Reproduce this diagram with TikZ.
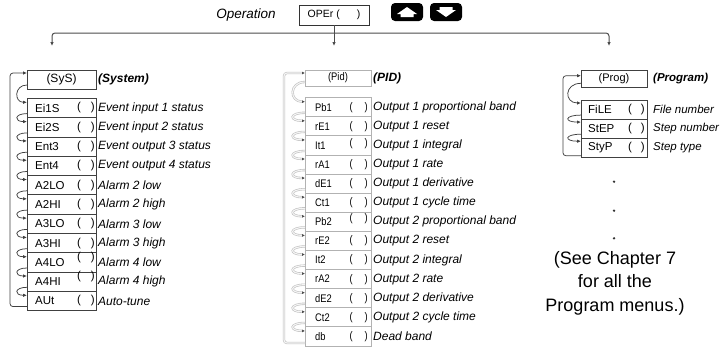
\documentclass[tikz,border=0pt]{standalone}
\usepackage{fontspec}
\setmainfont{Liberation Sans}
\newfontfamily\narrowfont[FakeStretch=0.85]{Liberation Sans}
\usetikzlibrary{arrows.meta,positioning}

\begin{document}
\begin{tikzpicture}[x=1pt, y=-1pt,
    sysbox/.style={draw=black!75, line width=0.75pt, minimum width=69pt, minimum height=19.3pt, inner sep=0pt, outer sep=0pt},
    pidbox/.style={draw=gray!60, line width=1pt, minimum width=66pt, minimum height=19.1pt, inner sep=0pt, outer sep=0pt},
    progbox/.style={sysbox, minimum width=66pt, minimum height=19.1pt},
    lab/.style={anchor=west, inner sep=0pt, font=\fontsize{11.5}{13}\selectfont},
    paren/.style={anchor=east, inner sep=0pt, font=\fontsize{11.5}{13}\selectfont},
    desc/.style={anchor=west, inner sep=2pt, font=\fontsize{12}{14}\selectfont\itshape},
    hdrdesc/.style={desc, font=\fontsize{12}{14}\selectfont\bfseries\itshape},
    flow/.style={draw=black!70, line width=1pt, -{Latex[length=4pt,width=3.5pt]}},
    linkline/.style={draw=black!75, line width=0.75pt, -{Latex[length=4pt,width=3.5pt]}},
    pidlink/.style={draw=gray!50, double=gray!8, double distance=1.1pt, line width=0.6pt, -{Latex[length=3pt,width=3pt,color=black!70]}},
    btn/.style={fill=black, rounded corners=4pt, minimum width=32pt, minimum height=18pt, inner sep=0pt}
  ]

    \useasboundingbox (0,0) rectangle (725,348);

    % 1. 顶部:Operation 菜单与上下键
    \node[font=\fontsize{13.5}{16}\selectfont\itshape] (opname) at (246,15) {Operation};
    \node[draw=black!80, line width=0.75pt, minimum width=70pt, minimum height=20pt, inner sep=0pt,
          font=\fontsize{10.5}{12}\selectfont] (oper) at (334,15) {OPEr (\hspace{17pt})};
    \node[btn] (up) at (407,12) {};
    \node[btn] (dn) at (446,12) {};
    \begin{scope}[shift={(up.center)}]
      \fill[white] (-6.5,5) -- (6.5,5) -- (6.5,2) -- (10,2) -- (0,-5) -- (-10,2) -- (-6.5,2) -- cycle;
    \end{scope}
    \begin{scope}[shift={(dn.center)}]
      \fill[white] (-6.5,-5) -- (6.5,-5) -- (6.5,-2) -- (10,-2) -- (0,5) -- (-10,-2) -- (-6.5,-2) -- cycle;
    \end{scope}

    % 2. 分支线:通往三个子菜单
    \coordinate (bar) at (334,33);
    \coordinate (tipL) at (52,46);
    \coordinate (tipM) at (334,46);
    \coordinate (tipR) at (609,46);
    \draw[flow, rounded corners=3pt] (bar) -| (tipL);
    \draw[flow, rounded corners=3pt] (bar) -| (tipR);
    \draw[flow] (oper.south) -- (tipM);

    % 3. 左列 (SyS)
    \node[sysbox, minimum height=19pt, font=\fontsize{12}{14}\selectfont] (sys0) at (61.5,79.5) {(SyS)};
    \node[hdrdesc] (sysh) at (sys0.east) {(System)};
    \foreach \lab/\txt/\up [count=\i] in {Ei1S/Event input 1 status/0, Ei2S/Event input 2 status/0,
        Ent3/Event output 3 status/0, Ent4/Event output 4 status/0, A2LO/Alarm 2 low/0,
        A2HI/Alarm 2 high/0, A3LO/Alarm 3 low/0, A3HI/Alarm 3 high/0, A4LO/Alarm 4 low/5,
        A4HI/Alarm 4 high/5, AUt/Auto-tune/0}{
      \pgfmathtruncatemacro\j{\i-1}
      \node[sysbox] (sys\i) at (61.5,{98.3+19.3*(\i-0.5)}) {};
      \node[lab] (sysl\i) at ([xshift=8pt]sys\i.west) {\lab};
      \node[paren, yshift=\up pt] (sysp\i) at ([xshift=-1pt]sys\i.east) {(\hspace{10pt})};
      \node[desc] (sysd\i) at (sys\i.east) {\txt};
      \draw[linkline] ([yshift=4pt]sys\j.south west) .. controls +(-13,0) and +(-13,0) .. ([yshift=-4pt]sys\i.north west);
    }
    \draw[linkline, rounded corners=3pt] ([yshift=4pt]sys11.south west) -- ++(-17,0) |- ([yshift=-3pt]sys0.north west);

    % 4. 中列 (Pid)
    \node[pidbox, minimum height=16pt, font=\fontsize{11}{12}\narrowfont] (pid0) at (338,78) {(Pid)};
    \node[hdrdesc] (pidh) at (pid0.east) {(PID)};
    \foreach \lab/\txt/\up [count=\i] in {Pb1/Output 1 proportional band/0, rE1/Output 1 reset/0,
        It1/Output 1 integral/2, rA1/Output 1 rate/0, dE1/Output 1 derivative/0,
        Ct1/Output 1 cycle time/0, Pb2/Output 2 proportional band/3, rE2/Output 2 reset/0,
        It2/Output 2 integral/0, rA2/Output 2 rate/0, dE2/Output 2 derivative/0,
        Ct2/Output 2 cycle time/0, db/Dead band/0}{
      \pgfmathtruncatemacro\j{\i-1}
      \node[pidbox] (pid\i) at (338,{97.7+19.1*(\i-0.5)}) {};
      \node[lab, font=\fontsize{11}{12}\narrowfont] (pidl\i) at ([xshift=10pt]pid\i.west) {\lab};
      \node[paren, font=\fontsize{11}{12}\narrowfont, yshift=\up pt] (pidp\i) at ([xshift=-3pt]pid\i.east) {(\hspace{12pt})};
      \node[desc] (pidd\i) at (pid\i.east) {\txt};
      \draw[pidlink] ([yshift=4pt]pid\j.south west) .. controls +(-16,0) and +(-16,0) .. ([yshift=-4pt]pid\i.north west);
    }
    \draw[pidlink, rounded corners=3pt] ([yshift=3pt]pid13.south west) -- ++(-21,0) |- ([yshift=-3pt]pid0.north west);

    % 5. 右列 (Prog)
    \node[progbox, minimum height=16.6pt, font=\fontsize{11}{13}\selectfont] (prog0) at (614,79) {(Prog)};
    \node[hdrdesc, xshift=4pt, font=\fontsize{11.5}{13}\selectfont\bfseries\itshape] (progh) at (prog0.east) {(Program)};
    \foreach \lab/\txt [count=\i] in {FiLE/File number, StEP/Step number, StyP/Step type}{
      \pgfmathtruncatemacro\j{\i-1}
      \node[progbox] (prog\i) at (614,{100+19.1*(\i-0.5)}) {};
      \node[lab] (progl\i) at ([xshift=7pt]prog\i.west) {\lab};
      \node[paren] (progp\i) at ([xshift=-2pt]prog\i.east) {(\hspace{9pt})};
      \node[desc, xshift=4pt, font=\fontsize{11.5}{13}\selectfont\itshape] (progd\i) at (prog\i.east) {\txt};
      \draw[linkline] ([yshift=4pt]prog\j.south west) .. controls +(-17,0) and +(-17,0) .. ([yshift=-3pt]prog\i.north west);
    }
    \draw[linkline, rounded corners=3pt] ([yshift=1.5pt]prog3.south west) -- ++(-18,0) |- ([yshift=-5pt]prog0.north west);

    % 6. 省略点与说明文字
    \foreach \y [count=\k] in {181.7, 210.7, 238.3}
      \node[circle, fill=black!80, inner sep=0pt, minimum size=2.6pt] (dot\k) at (614,\y) {};
    \node[align=center, font=\fontsize{18}{23.3}\selectfont] (note) at (615,283.3) {(See Chapter 7\\for all the\\Program menus.)};

  \end{tikzpicture}
\end{document}
